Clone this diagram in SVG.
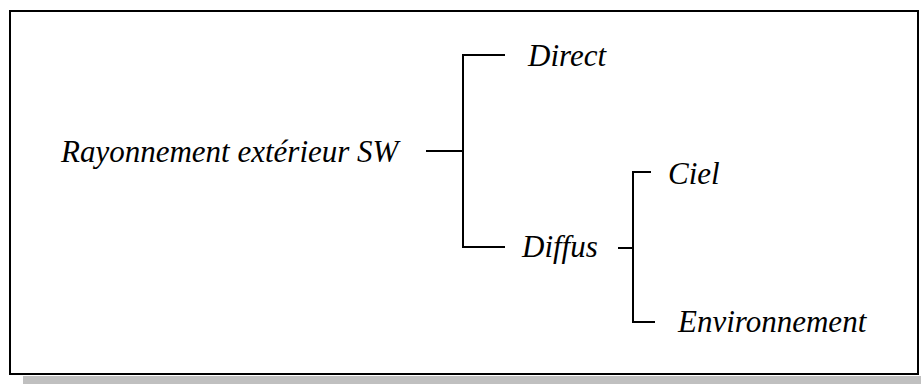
<svg xmlns="http://www.w3.org/2000/svg" width="921" height="384" viewBox="0 0 921 384">
<style>
text{font-family:"Liberation Serif","Times New Roman",serif;font-style:italic;font-size:31px;fill:#000}
.c{stroke:#000;stroke-width:2;fill:none}
</style>
<rect x="0" y="0" width="921" height="384" fill="#fff"/>
<rect x="23" y="376" width="898" height="8" fill="#c0c0c0"/>
<rect x="10" y="11" width="908" height="363" fill="#fff" stroke="#000" stroke-width="2"/>
<g id="connectors">
<path class="c" d="M426 151H463M505 55H463V247H505"/>
<path class="c" d="M618 248H633M651 172H633V322H655"/>
</g>
<g id="root"><text x="61" y="162">Rayonnement extérieur SW</text></g>
<g id="direct"><text x="528" y="66">Direct</text></g>
<g id="diffus"><text x="522" y="257">Diffus</text></g>
<g id="ciel"><text x="668" y="184">Ciel</text></g>
<g id="env"><text x="678" y="332">Environnement</text></g>
</svg>
